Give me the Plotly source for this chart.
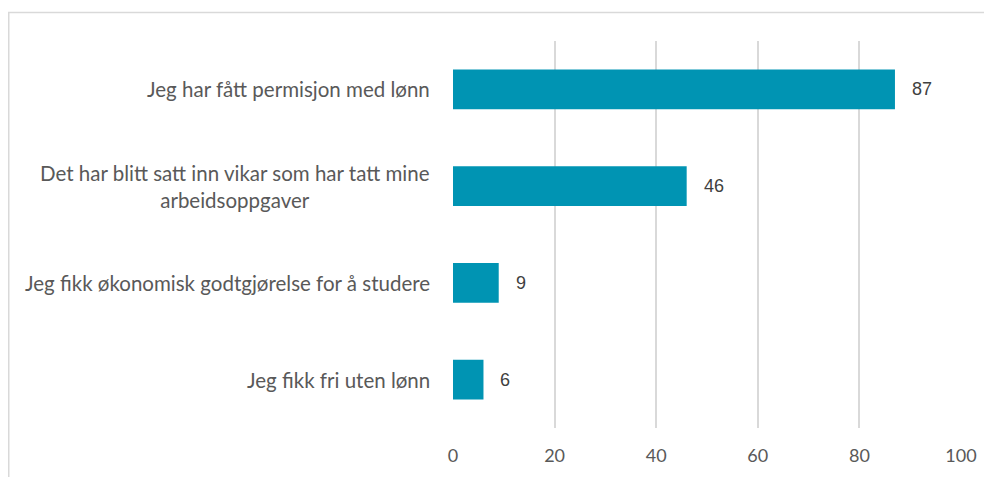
import plotly.graph_objects as go

categories = [
    "Jeg har fått permisjon med lønn",
    "Det har blitt satt inn vikar som har tatt mine<br>arbeidsoppgaver",
    "Jeg fikk økonomisk godtgjørelse for å studere",
    "Jeg fikk fri uten lønn",
]
values = [87, 46, 9, 6]
x_ticks = [0, 20, 40, 60, 80, 100]

FONT = "Lato"
# page has an 8px body margin; figure fills the rest of the window
W, H = 984, 469
L, R, T, B = 445, 31, 33, 49
pw, ph = W - L - R, H - T - B

fig = go.Figure(go.Bar(
    x=values,
    y=categories,
    orientation="h",
    marker=dict(color="#0094B3", line=dict(width=0)),
    width=0.41,
    hoverinfo="skip",
))

annotations = []
for c in categories:
    annotations.append(dict(
        x=0, xref="paper", y=c, yref="y", text=c, showarrow=False,
        xanchor="right", yanchor="middle", align="center", xshift=-21,
        font=dict(family=FONT, size=20.5, color="#595959"),
    ))
for c, v in zip(categories, values):
    annotations.append(dict(
        x=v, xref="x", y=c, yref="y", text=str(v), showarrow=False,
        xanchor="left", yanchor="middle", xshift=15,
        font=dict(family="Liberation Sans", size=18, color="#404040"),
    ))

fig.update_layout(
    width=W, height=H,
    margin=dict(l=L, r=R, t=T, b=B, pad=0, autoexpand=False),
    paper_bgcolor="white", plot_bgcolor="white",
    showlegend=False,
    font=dict(family=FONT, size=18, color="#595959"),
    xaxis=dict(
        range=[0, 100], tickvals=x_ticks, showgrid=True, gridcolor="#d9d9d9",
        gridwidth=1.5, zeroline=False, showline=False, ticks="",
        tickfont=dict(family=FONT, size=18, color="#595959"),
        ticklabelstandoff=15, fixedrange=True, automargin=False,
    ),
    yaxis=dict(
        autorange="reversed", showgrid=False, zeroline=False, showline=False,
        ticks="", showticklabels=False, fixedrange=True, automargin=False,
    ),
    annotations=annotations,
    shapes=[dict(
        type="rect", xref="paper", yref="paper",
        x0=(0.75 - L) / pw, x1=(W + 20 - L) / pw,
        y0=-(B + 20) / ph, y1=1 + (T - 4.5) / ph,
        line=dict(color="#d9d9d9", width=1.5), fillcolor="rgba(0,0,0,0)",
        layer="below",
    )],
)

fig.write_html(
    "out.html",
    post_script="document.documentElement.style.overflow='hidden';"
                "document.body.style.overflow='hidden';",
)
